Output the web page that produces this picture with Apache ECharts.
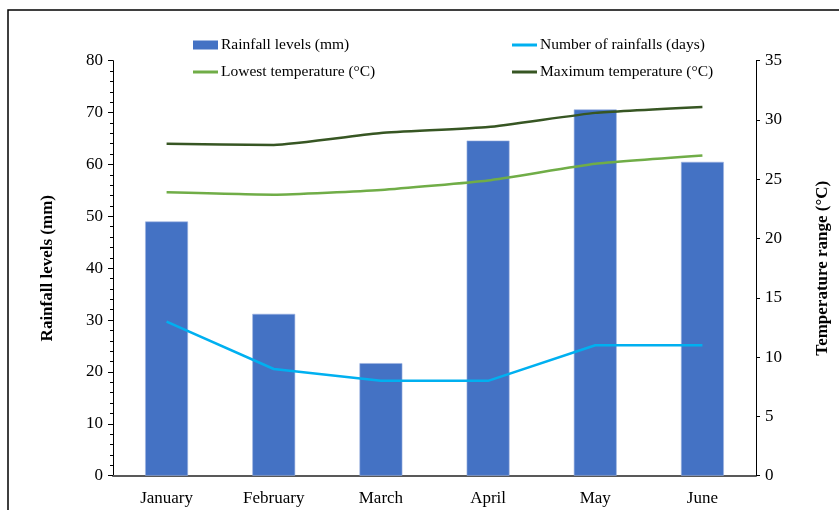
<!DOCTYPE html>
<html>
<head>
<meta charset="utf-8">
<script src="https://cdn.jsdelivr.net/npm/echarts@6/dist/echarts.min.js"></script>
<style>
  html, body { margin: 0; padding: 0; background: #fff; }
  #chart { width: 839px; height: 510px; }
</style>
</head>
<body>
<div id="chart"></div>
<script>
// values
const months = ['January', 'February', 'March', 'April', 'May', 'June'];
const rainfallMm = [49.0, 31.2, 21.7, 64.6, 70.6, 60.5];
const rainfallDays = [13, 9, 8, 8, 11, 11];
const lowestTemp = [23.9, 23.7, 24.1, 24.9, 26.3, 27.0];
const maxTemp = [28.0, 27.9, 28.9, 29.4, 30.6, 31.1];

const serif = 'Liberation Serif';

let mychart = echarts.init(document.getElementById('chart'));

function legendAt(name, left, top, icon, h) {
  return {
    data: [name],
    left: left,
    top: top,
    padding: 0,
    icon: icon,
    itemWidth: 25,
    itemHeight: h,
    itemGap: 0,
    selectedMode: false,
    itemStyle: { borderWidth: 0 },
    textStyle: { fontFamily: serif, fontSize: 15.5, color: '#000', padding: [0, 0, 0, -2] }
  };
}

mychart.setOption({
  animation: false,
  textStyle: { fontFamily: serif },
  graphic: [{
    type: 'rect',
    shape: { x: 8, y: 10, width: 900, height: 600 },
    style: { fill: 'none', stroke: '#000', lineWidth: 1.5 },
    silent: true
  }],
  legend: [
    legendAt('Rainfall levels (mm)', 193, 37, 'rect', 9),
    legendAt('Number of rainfalls (days)', 512, 37, 'rect', 3),
    legendAt('Lowest temperature (°C)', 193, 64, 'rect', 3),
    legendAt('Maximum temperature (°C)', 512, 64, 'rect', 3)
  ],
  grid: { left: 113, right: 82, top: 60.7, bottom: 34.3 },
  xAxis: {
    type: 'category',
    data: months,
    axisLine: { lineStyle: { color: '#595959', width: 2 } },
    axisTick: { show: false },
    axisLabel: { fontFamily: serif, fontSize: 17, color: '#000', margin: 14 }
  },
  yAxis: [
    {
      type: 'value',
      min: 0, max: 80, interval: 10,
      name: 'Rainfall levels (mm)',
      nameLocation: 'middle',
      nameRotate: 90,
      nameGap: 57,
      nameTextStyle: { fontFamily: serif, fontSize: 17, fontWeight: 'bold', color: '#000' },
      axisLine: { show: true, lineStyle: { color: '#000', width: 1 } },
      axisTick: { show: true, length: 5, lineStyle: { color: '#000' } },
      minorTick: { show: true, splitNumber: 5, length: 3, lineStyle: { color: '#000' } },
      splitLine: { show: false },
      axisLabel: { fontFamily: serif, fontSize: 17, color: '#000', margin: 10 }
    },
    {
      type: 'value',
      min: 0, max: 35, interval: 5,
      position: 'right',
      name: 'Temperature range (°C)',
      nameLocation: 'middle',
      nameRotate: 90,
      nameGap: 58,
      nameTextStyle: { fontFamily: serif, fontSize: 17, fontWeight: 'bold', color: '#000' },
      axisLine: { show: true, lineStyle: { color: '#000', width: 1 } },
      axisTick: { show: true, length: 4, lineStyle: { color: '#000' } },
      splitLine: { show: false },
      axisLabel: { fontFamily: serif, fontSize: 17, color: '#000', margin: 9 }
    }
  ],
  series: [
    {
      name: 'Rainfall levels (mm)',
      type: 'bar',
      data: rainfallMm,
      barWidth: '40%',
      itemStyle: { color: '#4472C4', borderColor: '#9db4e0', borderWidth: 0.6 }
    },
    {
      name: 'Number of rainfalls (days)',
      type: 'line',
      yAxisIndex: 1,
      data: rainfallDays,
      symbol: 'none',
      lineStyle: { color: '#00B0F0', width: 2.5 },
      itemStyle: { color: '#00B0F0' }
    },
    {
      name: 'Lowest temperature (°C)',
      type: 'line',
      yAxisIndex: 1,
      data: lowestTemp,
      symbol: 'none',
      smooth: 0.15,
      lineStyle: { color: '#70AD47', width: 2.5 },
      itemStyle: { color: '#70AD47' }
    },
    {
      name: 'Maximum temperature (°C)',
      type: 'line',
      yAxisIndex: 1,
      data: maxTemp,
      symbol: 'none',
      smooth: 0.15,
      lineStyle: { color: '#375623', width: 2.5 },
      itemStyle: { color: '#375623' }
    }
  ]
});
</script>
</body>
</html>
